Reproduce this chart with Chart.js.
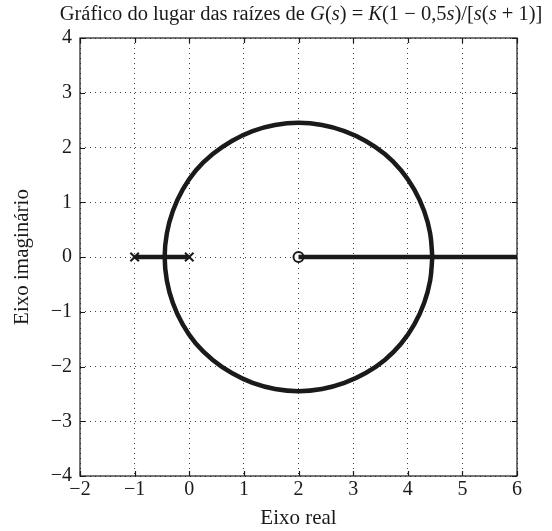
<!DOCTYPE html>
<html>
<head>
<meta charset="utf-8">
<script src="https://cdn.jsdelivr.net/npm/chart.js@4/dist/chart.umd.min.js"></script>
<style>
    html, body { margin: 0; padding: 0; background: #fff; }
    #wrap { width: 552px; height: 531px; }
</style>
</head>
<body>
<div id="wrap"><canvas id="rootLocus" width="552" height="531"></canvas></div>
<script>
// ticks
const xTicks = [-2, -1, 0, 1, 2, 3, 4, 5, 6];
const yTicks = [-4, -3, -2, -1, 0, 1, 2, 3, 4];

const circleRe = [4.45, 4.41, 4.30, 4.12, 3.88, 3.58, 3.23, 2.84, 2.43, 2.00, 1.57, 1.16, 0.78, 0.43, 0.12, -0.12, -0.30, -0.41, -0.45,
    -0.41, -0.30, -0.12, 0.12, 0.43, 0.78, 1.16, 1.57, 2.00, 2.43, 2.84, 3.23, 3.58, 3.88, 4.12, 4.30, 4.41, 4.45];
const circleIm = [0, 0.43, 0.84, 1.23, 1.58, 1.88, 2.12, 2.30, 2.41, 2.45, 2.41, 2.30, 2.12, 1.88, 1.58, 1.23, 0.84, 0.43, 0,
    -0.43, -0.84, -1.23, -1.58, -1.88, -2.12, -2.30, -2.41, -2.45, -2.41, -2.30, -2.12, -1.88, -1.58, -1.23, -0.84, -0.43, 0];

// real axis branches
const leftBranchRe = [-1, 0];
const rightBranchRe = [2, 6];

// open loop poles and zero
const poleRe = [-1, 0];
const zeroRe = [2];

const toPts = (re, im) => re.map((v, i) => ({x: v, y: im ? im[i] : 0}));

const serif = '"Liberation Serif", "Times New Roman", serif';
const ink = '#1a1a1a';

// title with italic symbols
const titleParts = [
    ['Gráfico do lugar das raízes de ', false], ['G', true], ['(', false], ['s', true], [') = ', false],
    ['K', true], ['(1 − 0,5', false], ['s', true], [')/[', false], ['s', true], ['(', false], ['s', true], [' + 1)]', false]
];

const framePlugin = {
    id: 'frame',
    afterDraw(chart) {
        const {ctx, chartArea: a, scales} = chart;
        ctx.save();
        ctx.strokeStyle = ink;
        ctx.lineWidth = 1.2;
        ctx.strokeRect(a.left, a.top, a.right - a.left, a.bottom - a.top);
        // inward tick marks
        const len = 5;
        ctx.beginPath();
        scales.x.ticks.forEach(t => {
            const px = Math.round(scales.x.getPixelForValue(t.value)) + 0.5;
            ctx.moveTo(px, a.bottom); ctx.lineTo(px, a.bottom - len);
            ctx.moveTo(px, a.top); ctx.lineTo(px, a.top + len);
        });
        scales.y.ticks.forEach(t => {
            const py = Math.round(scales.y.getPixelForValue(t.value)) + 0.5;
            ctx.moveTo(a.left, py); ctx.lineTo(a.left + len, py);
            ctx.moveTo(a.right, py); ctx.lineTo(a.right - len, py);
        });
        ctx.stroke();

        // title
        ctx.fillStyle = ink;
        ctx.textBaseline = 'alphabetic';
        const fnt = it => (it ? 'italic ' : '') + '20.5px ' + serif;
        let total = 0;
        titleParts.forEach(([t, it]) => { ctx.font = fnt(it); total += ctx.measureText(t).width; });
        let x = 301 - total / 2;
        titleParts.forEach(([t, it]) => {
            ctx.font = fnt(it);
            ctx.fillText(t, x, 20);
            x += ctx.measureText(t).width;
        });
        ctx.restore();
    }
};

const minus = v => String(v).replace('-', '\u2212');

new Chart(document.getElementById('rootLocus'), {
    type: 'scatter',
    data: {
        datasets: [
            {
                data: toPts(circleRe, circleIm),
                showLine: true,
                tension: 0.4,
                borderColor: ink,
                borderWidth: 4.5,
                pointRadius: 0,
                borderJoinStyle: 'round'
            },
            {
                data: toPts(leftBranchRe),
                showLine: true,
                borderColor: ink,
                borderWidth: 4.5,
                pointRadius: 0
            },
            {
                data: toPts(rightBranchRe),
                showLine: true,
                borderColor: ink,
                borderWidth: 4.5,
                pointRadius: 0
            },
            {
                data: toPts(poleRe),
                pointStyle: 'crossRot',
                pointRadius: 6,
                borderWidth: 2,
                borderColor: ink
            },
            {
                data: toPts(zeroRe),
                pointStyle: 'circle',
                pointRadius: 5,
                borderWidth: 2,
                borderColor: ink,
                backgroundColor: '#fff'
            }
        ]
    },
    options: {
        responsive: false,
        animation: false,
        layout: { padding: { top: 38, right: 35, left: 0, bottom: 0 } },
        plugins: { legend: { display: false }, tooltip: { enabled: false } },
        scales: {
            x: {
                type: 'linear',
                min: -2, max: 6,
                afterBuildTicks: s => { s.ticks = xTicks.map(v => ({value: v})); },
                afterFit: s => { s.height = 55; },
                ticks: { color: ink, font: { family: serif, size: 20 }, padding: 2, callback: minus },
                grid: { color: '#444', lineWidth: 1, drawTicks: false },
                border: { display: false, dash: [1, 4] },
                title: { display: true, text: 'Eixo real', color: ink, font: { family: serif, size: 21 }, padding: { top: 0, bottom: 0 } }
            },
            y: {
                type: 'linear',
                min: -4, max: 4,
                afterBuildTicks: s => { s.ticks = yTicks.map(v => ({value: v})); },
                afterFit: s => { s.width = 80; },
                ticks: { color: ink, font: { family: serif, size: 20 }, padding: 8, callback: minus },
                grid: { color: '#444', lineWidth: 1, drawTicks: false },
                border: { display: false, dash: [1, 4] },
                title: { display: true, text: 'Eixo imaginário', color: ink, font: { family: serif, size: 21 }, padding: { top: 10, bottom: 0 } }
            }
        }
    },
    plugins: [framePlugin]
});
</script>
</body>
</html>
